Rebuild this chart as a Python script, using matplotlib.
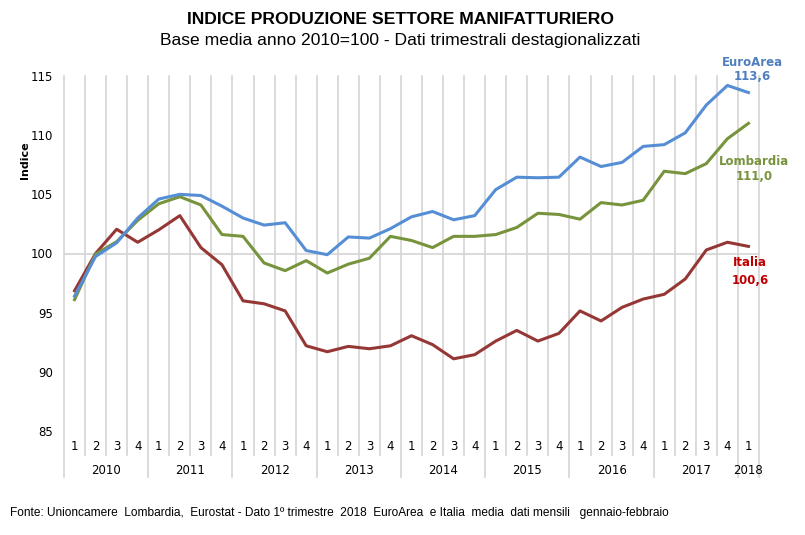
import numpy as np
import matplotlib
matplotlib.use("Agg")
import matplotlib.pyplot as plt
import matplotlib.transforms as mtransforms

# quarterly data 2010Q1 .. 2018Q1
years = ['2010', '2011', '2012', '2013', '2014', '2015', '2016', '2017', '2018']
quarters = ['1', '2', '3', '4'] * 8 + ['1']

euroarea = [96.4, 99.75, 100.9, 103.0, 104.6, 105.0, 104.9, 104.0, 103.0, 102.4,
            102.6, 100.25, 99.9, 101.4, 101.3, 102.1, 103.1, 103.55, 102.85, 103.2,
            105.4, 106.45, 106.4, 106.45, 108.15, 107.35, 107.7, 109.05, 109.2, 110.2,
            112.55, 114.2, 113.6]
lombardia = [96.1, 99.95, 101.0, 102.8, 104.2, 104.8, 104.1, 101.6, 101.45, 99.2,
             98.55, 99.4, 98.35, 99.1, 99.6, 101.45, 101.1, 100.5, 101.45, 101.45,
             101.6, 102.2, 103.4, 103.3, 102.9, 104.3, 104.1, 104.5, 106.95, 106.75,
             107.6, 109.7, 111.0]
italia = [96.85, 100.0, 102.05, 100.95, 102.0, 103.2, 100.5, 99.05, 96.0, 95.75,
          95.15, 92.2, 91.7, 92.15, 91.95, 92.2, 93.05, 92.3, 91.1, 91.45,
          92.6, 93.5, 92.6, 93.25, 95.15, 94.3, 95.45, 96.15, 96.55, 97.85,
          100.3, 100.95, 100.6]

c_euro = '#558ED5'
c_lomb = '#77933C'
c_ita = '#953735'
c_grid = '#D4D4D4'

plt.rcParams['font.family'] = ['DejaVu Sans']

fig = plt.figure(figsize=(8.05, 5.35), dpi=100)
ax = fig.add_axes([64/805, 1 - 431/535, 695/805, 355/535])

n = len(quarters)
x = np.arange(n)
ax.set_xlim(-0.5, n - 0.5)
ax.set_ylim(85, 115)

# vertical separators between categories
trans = mtransforms.blended_transform_factory(ax.transData, ax.transAxes)
px = 1 / 355
for k in range(n + 1):
    xb = k - 0.5
    if k % 4 == 0 or k == n:
        y0 = -(477 - 431) * px
    else:
        y0 = -(455 - 431) * px
    ax.plot([xb, xb], [y0, 1], color=c_grid, lw=1.2, transform=trans,
            clip_on=False, zorder=1)

ax.axhline(100, color=c_grid, lw=1.2, zorder=1)

ax.plot(x, italia, color=c_ita, lw=2.2, zorder=3)
ax.plot(x, lombardia, color=c_lomb, lw=2.2, zorder=3)
ax.plot(x, euroarea, color=c_euro, lw=2.2, zorder=4)

# category labels
for k, q in enumerate(quarters):
    ax.text(k, -(447 - 431) * px, q, transform=trans, ha='center', va='center',
            fontsize=8.5)
for i, yr in enumerate(years):
    if i < len(years) - 1:
        xc = i * 4 + 1.5
    else:
        xc = i * 4
    ax.text(xc, -(471 - 431) * px, yr, transform=trans, ha='center',
            va='center', fontsize=8.5)

ax.set_yticks([85, 90, 95, 100, 105, 110, 115])
ax.tick_params(axis='y', length=0, labelsize=8.5, pad=8)
ax.set_xticks([])
for s in ax.spines.values():
    s.set_visible(False)

fig.text(25/805, 1 - 160/535, 'Indice', rotation=90, ha='center', va='center',
         fontsize=8, fontweight='bold')

fig.text(400/805, 1 - 19/535, 'INDICE PRODUZIONE SETTORE MANIFATTURIERO',
         ha='center', va='center', fontsize=12.6, fontweight='bold',
         family='Liberation Sans')
fig.text(400/805, 1 - 41/535, 'Base media anno 2010=100 - Dati trimestrali destagionalizzati',
         ha='center', va='center', fontsize=12.6, family='Liberation Sans')

# series labels
fig.text(752/805, 1 - 62/535, 'EuroArea', ha='center', va='center',
         fontsize=8.5, fontweight='bold', color='#4F7FBF')
fig.text(752/805, 1 - 77/535, '113,6', ha='center', va='center',
         fontsize=8.5, fontweight='bold', color='#4F7FBF')
fig.text(754/805, 1 - 161/535, 'Lombardia', ha='center', va='center',
         fontsize=8.5, fontweight='bold', color=c_lomb)
fig.text(754/805, 1 - 177/535, '111,0', ha='center', va='center',
         fontsize=8.5, fontweight='bold', color=c_lomb)
fig.text(750/805, 1 - 263/535, 'Italia', ha='center', va='center',
         fontsize=8.5, fontweight='bold', color='#C00000')
fig.text(750/805, 1 - 281/535, '100,6', ha='center', va='center',
         fontsize=8.5, fontweight='bold', color='#C00000')

fig.text(10/805, 1 - 513/535,
         'Fonte: Unioncamere  Lombardia,  Eurostat - Dato 1\u00ba trimestre  2018  '
         'EuroArea  e Italia  media  dati mensili   gennaio-febbraio',
         ha='left', va='center', fontsize=8.6, family='Liberation Sans')

fig.savefig('out.png', dpi=100)
